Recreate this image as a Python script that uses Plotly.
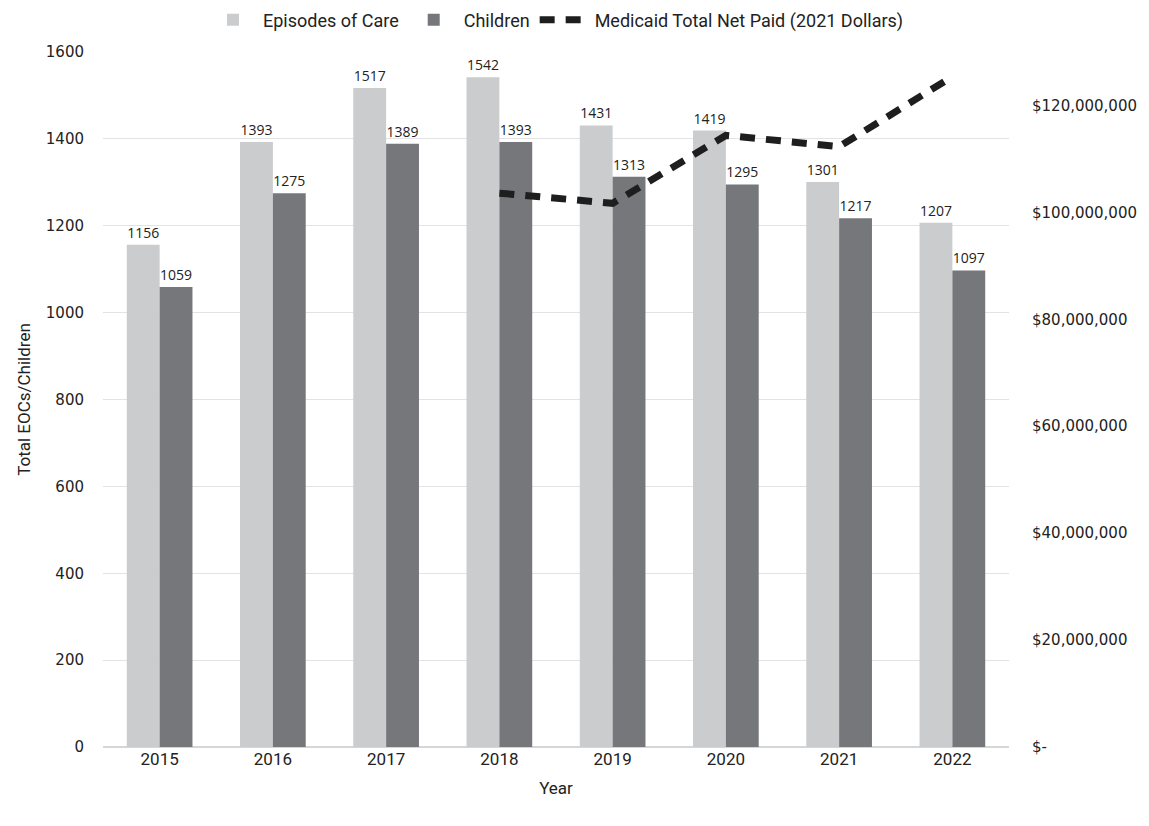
import plotly.graph_objects as go

years = ["2015", "2016", "2017", "2018", "2019", "2020", "2021", "2022"]
episodes = [1156, 1393, 1517, 1542, 1431, 1419, 1301, 1207]
children = [1059, 1275, 1389, 1393, 1313, 1295, 1217, 1097]
paid_years = ["2018", "2019", "2020", "2021", "2022"]
paid = [103.6e6, 101.7e6, 114.4e6, 112.3e6, 125.4e6]

right_ticks = [0, 20e6, 40e6, 60e6, 80e6, 100e6, 120e6]
right_labels = ["$-" if v == 0 else "${:,.0f}".format(v) for v in right_ticks]

cond = "Roboto, sans-serif"
wide = "DejaVu Sans, sans-serif"

fig = go.Figure()
fig.add_trace(go.Bar(
    x=years, y=episodes, name="Episodes of Care",
    marker=dict(color="#CBCCCE", line=dict(width=0)),
    text=[str(v) for v in episodes], textposition="outside",
    textfont=dict(family="Open Sans, sans-serif", size=14, color="#222222"),
    cliponaxis=False,
))
fig.add_trace(go.Bar(
    x=years, y=children, name="Children",
    marker=dict(color="#76777B", line=dict(width=0)),
    text=[str(v) for v in children], textposition="outside",
    textfont=dict(family="Open Sans, sans-serif", size=14, color="#222222"),
    cliponaxis=False,
))
fig.add_trace(go.Scatter(
    x=paid_years, y=paid, name="Medicaid Total Net Paid (2021 Dollars)",
    mode="lines", yaxis="y2",
    line=dict(color="#1E1E1E", width=7, dash="15px,11px"),
))

fig.update_layout(
    width=1149, height=826,
    margin=dict(l=103, r=140, t=52, b=79, autoexpand=False),
    paper_bgcolor="white", plot_bgcolor="white",
    barmode="group", bargap=0.42, bargroupgap=0,
    font=dict(family=cond, size=16, color="#222222"),
    legend=dict(orientation="h", x=0.5, xanchor="center", y=1.046, yanchor="middle",
                font=dict(family=cond, size=18, color="#222222"),
                traceorder="normal", itemwidth=50),
    xaxis=dict(
        type="category", showgrid=False, showline=False, ticks="",
        tickfont=dict(family=cond, size=17, color="#222222"),
        title=dict(text="Year", font=dict(family=cond, size=17, color="#222222"), standoff=14),
    ),
    yaxis=dict(
        range=[0, 1600], dtick=200, showgrid=True, gridcolor="#E3E3E3", gridwidth=1.3,
        zeroline=True, zerolinecolor="#D6D6D6", zerolinewidth=2,
        tickfont=dict(family=wide, size=15, color="#222222"),
        ticklabelstandoff=18,
        title=dict(text="Total EOCs/Children", font=dict(family=cond, size=17, color="#222222"), standoff=10),
    ),
    yaxis2=dict(
        overlaying="y", side="right", range=[0, 130e6],
        tickvals=right_ticks, ticktext=right_labels,
        showgrid=False, zeroline=False, showline=False,
        tickfont=dict(family=wide, size=15, color="#222222"),
        ticklabelstandoff=22,
    ),
)

fig.write_html("out.html")
